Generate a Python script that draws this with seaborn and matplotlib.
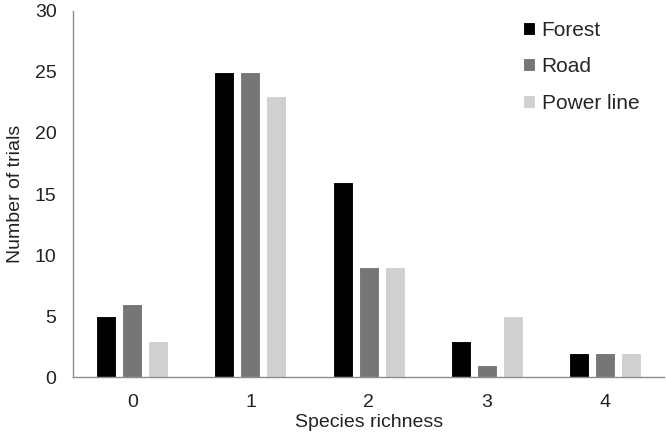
import pandas as pd
import matplotlib
matplotlib.use("Agg")
import matplotlib.pyplot as plt
import seaborn as sns

# Values
richness = ['0', '1', '2', '3', '4']
forest = [5, 25, 16, 3, 2]
road = [6, 25, 9, 1, 2]
power_line = [3, 23, 9, 5, 2]

df = pd.DataFrame({
    'Species richness': richness * 3,
    'Number of trials': forest + road + power_line,
    'Habitat': ['Forest'] * 5 + ['Road'] * 5 + ['Power line'] * 5,
})

sns.set_style('white')
plt.rcParams['font.family'] = ['Liberation Sans', 'DejaVu Sans']

fig, ax = plt.subplots(figsize=(6.66, 4.37), dpi=100)
fig.subplots_adjust(left=0.11, right=0.997, bottom=0.137, top=0.975)

palette = {'Forest': '#000000', 'Road': '#767676', 'Power line': '#d0d0d0'}
sns.barplot(data=df, x='Species richness', y='Number of trials', hue='Habitat',
            palette=palette, width=0.66, gap=0.23, saturation=1,
            edgecolor='white', linewidth=0.8, ax=ax)

ax.set_ylim(0, 30)
ax.set_xlim(-0.5, 4.5)
ax.set_yticks([0, 5, 10, 15, 20, 25, 30])
ax.tick_params(axis='y', length=0, labelsize=14, colors='#222222', pad=12)
ax.tick_params(axis='x', length=0, labelsize=14, colors='#222222', pad=12)
ax.set_xlabel('Species richness', fontsize=14, color='#222222', labelpad=2)
ax.set_ylabel('Number of trials', fontsize=14, color='#222222', labelpad=8)

for side in ['top', 'right']:
    ax.spines[side].set_visible(False)
for side in ['left', 'bottom']:
    ax.spines[side].set_color('#8c8c8c')
    ax.spines[side].set_linewidth(1.0)

ax.legend(title=None, frameon=False, loc='upper right', bbox_to_anchor=(0.99, 1.025),
          fontsize=15, labelspacing=0.85, handlelength=0.6, handleheight=0.6,
          handletextpad=0.3)

fig.savefig('out.png', dpi=100)
